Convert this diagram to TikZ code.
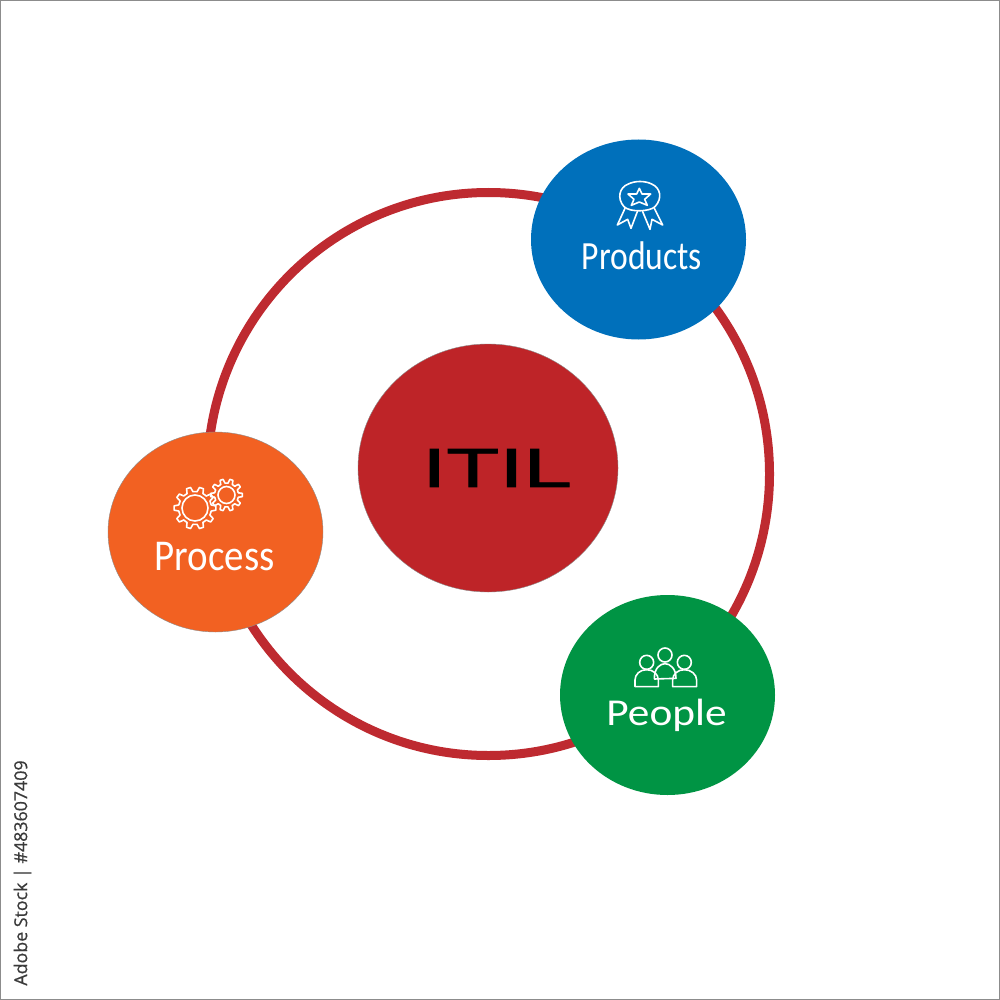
\documentclass[tikz,border=0pt]{standalone}
\usepackage{fontspec}
\setmainfont{Carlito}
\newfontfamily\sidefont[FakeBold=0.6]{Open Sans}
\newfontfamily\titlefont[FakeBold=1.2]{Liberation Sans}
\definecolor{ringred}{HTML}{BE2A30}
\definecolor{hubred}{HTML}{BE2428}
\definecolor{prodblue}{HTML}{0070BB}
\definecolor{procorange}{HTML}{F26122}
\definecolor{peoplegreen}{HTML}{009444}
\definecolor{sidegrey}{HTML}{3A3A3A}
\definecolor{framegrey}{HTML}{8C8C8C}
\usetikzlibrary{shapes.geometric}
\tikzset{
  blob/.style={ellipse,minimum width=215pt,minimum height=200pt,inner sep=0pt},
  label text/.style={text=white,inner sep=0pt},
  icon/.style={draw=white,line width=1.6pt,line join=round,line cap=round},
}
% gear: centre x, y, root radius, tip radius, hole radius, teeth
\newcommand{\geardraw}[6]{%
  \draw[icon] (#1,#2) circle[radius=#5];
  \pgfmathsetmacro{\gstep}{360/#6}
  \foreach \i in {1,...,#6}{
    \pgfmathsetmacro{\ga}{\i*\gstep}
    \pgfmathsetmacro{\gb}{\ga+0.16*\gstep}
    \pgfmathsetmacro{\gc}{\ga+0.30*\gstep}
    \pgfmathsetmacro{\gd}{\ga+\gstep-0.30*\gstep}
    \draw[icon] ({#1+#3*cos(\ga-0.30*\gstep)},{#2+#3*sin(\ga-0.30*\gstep)})
      -- ({#1+#4*cos(\ga-0.16*\gstep)},{#2+#4*sin(\ga-0.16*\gstep)})
      -- ({#1+#4*cos(\gb)},{#2+#4*sin(\gb)})
      -- ({#1+#3*cos(\gc)},{#2+#3*sin(\gc)})
      -- ({#1+#3*cos(\gd)},{#2+#3*sin(\gd)});
  }
}
\begin{document}
\begin{tikzpicture}[x=1pt,y=-1pt]
\useasboundingbox (0,0) rectangle (1000,1000);
\fill[white] (0,0) rectangle (1000,1000);
\draw[framegrey,line width=1.5pt] (0.7,0.7) rectangle (999.3,999.3);

% ring
\node[ellipse,draw=ringred,line width=9pt,minimum width=562pt,minimum height=563pt,inner sep=0pt] (ring) at (488.5,474) {};

% hub
\node[ellipse,fill=hubred,draw=black!45,line width=0.4pt,minimum width=260pt,minimum height=248pt,inner sep=0pt] (hub) at (488,468) {};
\node[inner sep=0pt,text=black] (hubtext) at (497,468) {\scalebox{1.58}[1]{\titlefont\fontsize{55}{55}\selectfont ITIL}};

% satellites
\node[blob,fill=prodblue] (products) at (638.5,239.5) {};
\node[blob,fill=procorange,draw=black!45,line width=0.4pt] (process) at (215.5,532) {};
\node[blob,fill=peoplegreen] (people) at (667.5,695) {};

\node[label text] (productstext) at (642,256) {\scalebox{0.84}[1]{\fontsize{40}{40}\selectfont Products}};
\node[label text] (processtext) at (214.5,557) {\scalebox{0.885}[1]{\fontsize{44}{44}\selectfont Process}};
\node[label text] (peopletext) at (666.5,715) {\scalebox{1.14}[1]{\fontsize{38}{38}\selectfont People}};

% rosette icon
\begin{scope}[shift={(560,160)},x=.3333pt,y=-.3333pt]
  \draw[icon] (192,140) .. controls (170,115) and (178,82) .. (205,72)
    .. controls (225,62) and (255,62) .. (275,72)
    .. controls (302,84) and (308,115) .. (285,140)
    .. controls (270,155) and (210,158) .. (192,140) -- cycle;
  \draw[icon] (238,85) -- (246,102) -- (272,102) -- (254,118) -- (262,136)
    -- (238,126) -- (214,136) -- (222,118) -- (204,102) -- (230,102) -- cycle;
  \draw[icon] (195,145) -- (172,195) -- (203,178) -- (213,205) -- (232,155);
  \draw[icon] (248,155) -- (270,208) -- (276,178) -- (308,195) -- (283,145);
\end{scope}

% gears icon
\geardraw{195}{508}{16.5}{21}{13}{10}
\geardraw{226.5}{495}{12}{16}{8.5}{10}

% people icon
\begin{scope}[shift={(590,635)},x=.3333pt,y=-.3333pt]
  \draw[icon] (225,60) circle[radius=7pt];
  \draw[icon] (170,82) circle[radius=7pt];
  \draw[icon] (283,82) circle[radius=7pt];
  \draw[icon] (193,130) .. controls (193,100) and (210,86) .. (225,86)
    .. controls (240,86) and (258,100) .. (258,130) -- (193,132);
  \draw[icon] (135,155) -- (135,135) .. controls (135,118) and (150,104) .. (170,104)
    .. controls (190,104) and (205,118) .. (205,135) -- (205,155) -- cycle;
  \draw[icon] (248,155) -- (248,135) .. controls (248,118) and (263,104) .. (283,104)
    .. controls (303,104) and (320,118) .. (320,135) -- (320,155) -- cycle;
\end{scope}

% side text
\node[rotate=90,inner sep=0pt,text=sidegrey] (sidelabel) at (22.5,873) {\sidefont\fontsize{17.8}{17.8}\selectfont Adobe Stock | \#483607409};
\end{tikzpicture}
\end{document}
